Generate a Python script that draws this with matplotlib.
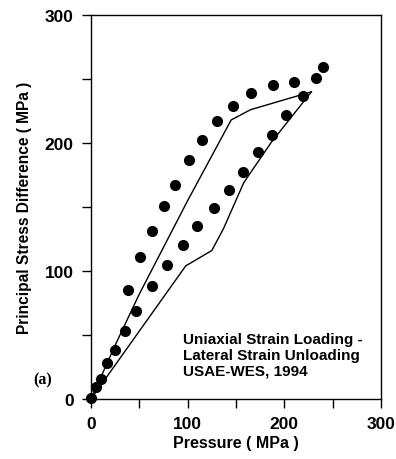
import matplotlib
matplotlib.use("Agg")
import matplotlib.pyplot as plt
from matplotlib.ticker import MultipleLocator

# Measured data (dots)
upper_p = [38, 51, 63, 75, 87, 101, 115, 130, 147, 166, 188, 210, 233, 240]
upper_s = [85, 111, 131, 151, 167, 187, 202, 217, 229, 239, 245, 248, 251, 259]
lower_p = [0, 5, 10, 17, 25, 35, 47, 63, 79, 95, 110, 127, 143, 157, 173, 187, 202, 219]
lower_s = [1, 9, 16, 28, 38, 53, 69, 88, 105, 120, 135, 149, 163, 177, 193, 206, 222, 237]

# Model lines
line1_p = [0, 25, 50, 100, 145, 165, 228]
line1_s = [0, 42, 82, 155, 218, 226, 240]
line2_p = [0, 98, 125, 137, 158, 186, 228]
line2_s = [0, 104, 116, 133, 169, 200, 240]

xticks = [0, 100, 200, 300]
yticks = [0, 100, 200, 300]

plt.rcParams['font.family'] = ['Liberation Sans', 'DejaVu Sans']

fig = plt.figure(figsize=(3.96, 4.6), dpi=100)
ax = fig.add_axes([91/396, 1-400/460, 290/396, 384/460])

ax.plot(line1_p, line1_s, color='black', lw=1.0)
ax.plot(line2_p, line2_s, color='black', lw=1.0)
ax.plot(upper_p, upper_s, 'o', color='black', ms=7, clip_on=False)
ax.plot(lower_p, lower_s, 'o', color='black', ms=7, clip_on=False)

ax.set_xlim(0, 300)
ax.set_ylim(0, 300)
ax.set_xticks(xticks)
ax.set_yticks(yticks)
ax.xaxis.set_minor_locator(MultipleLocator(50))
ax.yaxis.set_minor_locator(MultipleLocator(50))
ax.tick_params(which='both', direction='out', length=6.5, width=1)
ax.tick_params(which='major', labelsize=12.5, pad=6)
for lab in ax.get_xticklabels() + ax.get_yticklabels():
    lab.set_fontweight('bold')
for sp in ax.spines.values():
    sp.set_linewidth(1)

ax.set_xlabel('Pressure ( MPa )', fontsize=11.5, fontweight='bold')
ax.set_ylabel('Principal Stress Difference ( MPa )', fontsize=11.2, fontweight='bold')
ax.xaxis.set_label_coords(0.5, -0.093)
ax.yaxis.set_label_coords(-0.205, 0.5)

ax.text(95, 52, 'Uniaxial Strain Loading -\nLateral Strain Unloading\nUSAE-WES, 1994',
        fontsize=11, fontweight='bold', ha='left', va='top', linespacing=1.15)
fig.text(33/396, 1-380/460, '(a)', fontsize=11.5, fontweight='bold', family=['Liberation Serif'],
         ha='left', va='center')

fig.savefig('out.png', dpi=100)
